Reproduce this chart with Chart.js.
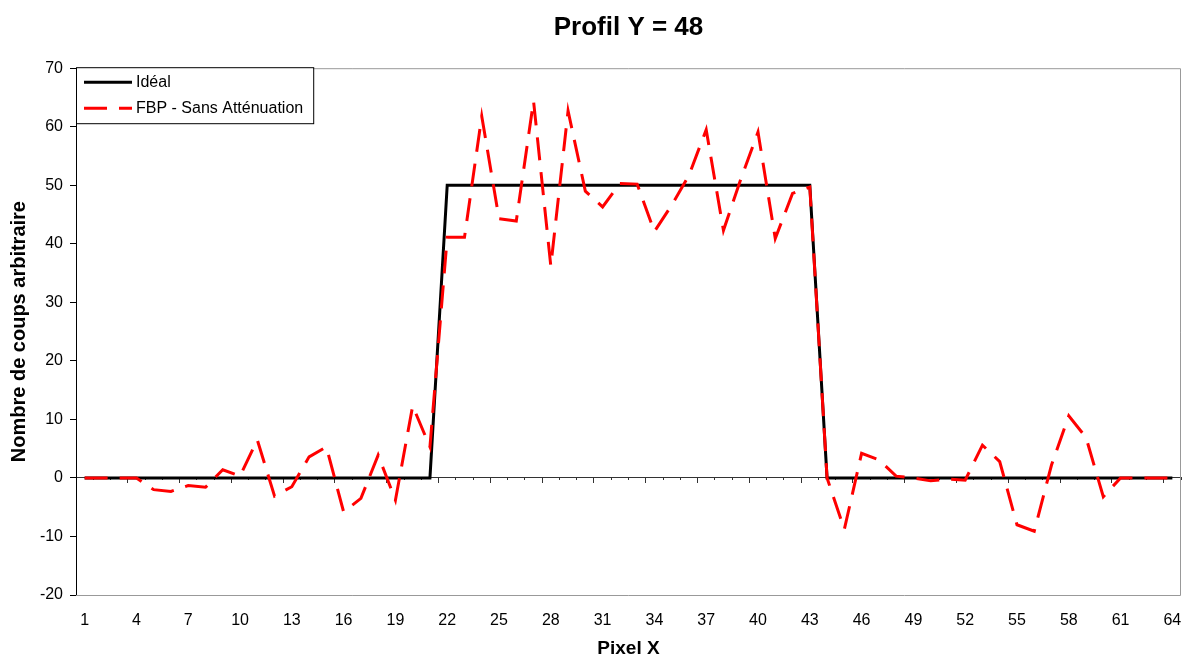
<!DOCTYPE html>
<html lang="fr">
<head>
<meta charset="utf-8">
<title>Profil Y = 48</title>
<script src="https://cdn.jsdelivr.net/npm/chart.js@4.4.1/dist/chart.umd.min.js"></script>
<style>
  html, body { margin: 0; padding: 0; background: #fff; }
  #wrap { width: 1182px; height: 656px; }
</style>
</head>
<body>
<div id="wrap"><canvas id="profil" width="1182" height="656"></canvas></div>
<script>
const pixels = [
  1, 2, 3, 4, 5, 6, 7, 8, 9, 10, 11, 12, 13, 14, 15, 16,
  17, 18, 19, 20, 21, 22, 23, 24, 25, 26, 27, 28, 29, 30, 31, 32,
  33, 34, 35, 36, 37, 38, 39, 40, 41, 42, 43, 44, 45, 46, 47, 48,
  49, 50, 51, 52, 53, 54, 55, 56, 57, 58, 59, 60, 61, 62, 63, 64,
];
const xTickLabels = ['1', '4', '7', '10', '13', '16', '19', '22', '25', '28', '31',
  '34', '37', '40', '43', '46', '49', '52', '55', '58', '61', '64'];

const ideal = [
  0, 0, 0, 0, 0, 0, 0, 0, 0, 0, 0, 0, 0, 0, 0, 0,
  0, 0, 0, 0, 0, 50, 50, 50, 50, 50, 50, 50, 50, 50, 50, 50,
  50, 50, 50, 50, 50, 50, 50, 50, 50, 50, 50, 0, 0, 0, 0, 0,
  0, 0, 0, 0, 0, 0, 0, 0, 0, 0, 0, 0, 0, 0, 0, 0,
];
const fbpSansAttenuation = [
  0, 0, 0, 0, -2.0, -2.3, -1.3, -1.6, 1.4, 0.3, 6.5, -3.1, -1.5, 3.6, 5.3, -5.8,
  -3.5, 3.9, -3.8, 12.3, 5.3, 41.1, 41.1, 61.8, 44.3, 43.9, 64.4, 36.2, 62.7, 49.0, 46.3, 50.3,
  50.2, 42.1, 46.6, 51.7, 59.5, 42.3, 51.0, 59.1, 40.9, 48.6, 49.7, 0, -8.8, 4.2, 3.1, 0.3,
  0, -0.5, -0.2, -0.4, 5.6, 2.8, -8.0, -9.1, 2.2, 10.6, 6.9, -3.2, 0, 0, 0, 0,
];

const FONT = "'Liberation Sans', Arial, sans-serif";

// grey frame on the top, right and bottom sides of the plot area
const plotFrame = {
  id: 'plotFrame',
  beforeDatasetsDraw(chart, args, opts) {
    const { ctx, chartArea: { left, top, right, bottom } } = chart;
    ctx.save();
    ctx.strokeStyle = opts.color;
    ctx.lineWidth = 1;
    ctx.beginPath();
    ctx.moveTo(left, top + 0.5);
    ctx.lineTo(right - 0.5, top + 0.5);
    ctx.lineTo(right - 0.5, bottom + 0.5);
    ctx.lineTo(left, bottom + 0.5);
    ctx.stroke();
    ctx.restore();
  },
};

// boxed legend in the upper left corner of the plot
const boxLegend = {
  id: 'boxLegend',
  afterDraw(chart, args, opts) {
    const { ctx, chartArea } = chart;
    const items = opts.order.map((i) => chart.data.datasets[i]);
    const x = chartArea.left;
    const y = chartArea.top - 1;
    ctx.save();
    ctx.font = `${opts.fontSize}px ${FONT}`;
    const textW = Math.max(...items.map((d) => ctx.measureText(d.label).width));
    const w = opts.padLeft + opts.sample + opts.gap + textW + opts.padRight;
    const h = opts.firstRow * 2 + (items.length - 1) * opts.rowHeight;

    ctx.fillStyle = '#fff';
    ctx.fillRect(x, y, w, h);
    ctx.strokeStyle = '#000';
    ctx.lineWidth = 1;
    ctx.strokeRect(x + 0.5, y + 0.5, w, h);

    items.forEach((d, k) => {
      const cy = y + opts.firstRow + k * opts.rowHeight;
      ctx.beginPath();
      ctx.setLineDash(d.borderDash || []);
      ctx.strokeStyle = d.borderColor;
      ctx.lineWidth = d.borderWidth;
      ctx.moveTo(x + opts.padLeft, cy);
      ctx.lineTo(x + opts.padLeft + opts.sample, cy);
      ctx.stroke();
      ctx.setLineDash([]);
      ctx.fillStyle = '#000';
      ctx.textBaseline = 'middle';
      ctx.fillText(d.label, x + opts.padLeft + opts.sample + opts.gap, cy);
    });
    ctx.restore();
  },
};

new Chart(document.getElementById('profil'), {
  type: 'line',
  data: {
    labels: pixels,
    datasets: [
      {
        label: 'Idéal',
        data: ideal,
        borderColor: '#000',
        borderWidth: 3,
        pointRadius: 0,
        tension: 0,
        order: 2,
      },
      {
        label: 'FBP - Sans Atténuation',
        data: fbpSansAttenuation,
        borderColor: '#ff0000',
        borderWidth: 3,
        borderDash: [23, 12],
        pointRadius: 0,
        tension: 0,
        order: 1,
      },
    ],
  },
  options: {
    responsive: false,
    animation: false,
    devicePixelRatio: 1,
    layout: { padding: { left: 0, right: 1, top: 0, bottom: 0 } },
    plugins: {
      legend: { display: false },
      tooltip: { enabled: false },
      title: {
        display: true,
        fullSize: false,
        text: 'Profil Y = 48',
        color: '#000',
        font: { family: FONT, size: 26, weight: 'bold' },
        padding: { top: 12, bottom: 25 },
      },
      plotFrame: { color: '#999' },
      boxLegend: {
        order: [0, 1],
        fontSize: 16,
        padLeft: 8,
        sample: 48,
        gap: 4,
        padRight: 10,
        firstRow: 15,
        rowHeight: 26,
      },
    },
    scales: {
      x: {
        type: 'category',
        offset: true,
        // invisible tick marks keep the labels clear of the frame
        grid: {
          display: true,
          drawOnChartArea: false,
          drawTicks: true,
          tickLength: 16,
          tickColor: 'rgba(0,0,0,0)',
        },
        border: { display: false },
        ticks: {
          autoSkip: false,
          maxRotation: 0,
          padding: 0,
          color: '#000',
          font: { family: FONT, size: 16 },
          callback(value) {
            const label = String(this.getLabelForValue(value));
            return xTickLabels.includes(label) ? label : '';
          },
        },
        title: {
          display: true,
          text: 'Pixel X',
          color: '#000',
          font: { family: FONT, size: 19, weight: 'bold' },
          padding: { top: 0, bottom: -4 },
        },
        afterFit(scale) { scale.height = 61; },
      },
      // axis line through y = 0 with its tick marks
      xZero: {
        axis: 'x',
        type: 'category',
        position: { y: 0 },
        offset: true,
        ticks: { display: false },
        grid: {
          offset: true,
          drawOnChartArea: false,
          tickLength: 5,
          tickColor: (c) => (c.index % 3 === 0 ? '#333' : 'rgba(0,0,0,0)'),
        },
        border: { color: '#333', width: 1 },
      },
      xMinor: {
        axis: 'x',
        type: 'category',
        position: { y: 0 },
        offset: true,
        ticks: { display: false },
        grid: {
          offset: true,
          drawOnChartArea: false,
          tickLength: 2,
          tickColor: '#333',
        },
        border: { display: false },
      },
      y: {
        min: -20,
        max: 70,
        ticks: {
          stepSize: 10,
          padding: 7,
          color: '#000',
          font: { family: FONT, size: 16 },
        },
        grid: { drawOnChartArea: false, tickLength: 6, tickColor: '#000' },
        border: { color: '#000', width: 1 },
        title: {
          display: true,
          text: 'Nombre de coups arbitraire',
          color: '#000',
          font: { family: FONT, size: 20, weight: 'bold' },
          padding: { top: 7, bottom: 0 },
        },
        afterFit(scale) { scale.width = 76; },
      },
    },
  },
  plugins: [plotFrame, boxLegend],
});
</script>
</body>
</html>
